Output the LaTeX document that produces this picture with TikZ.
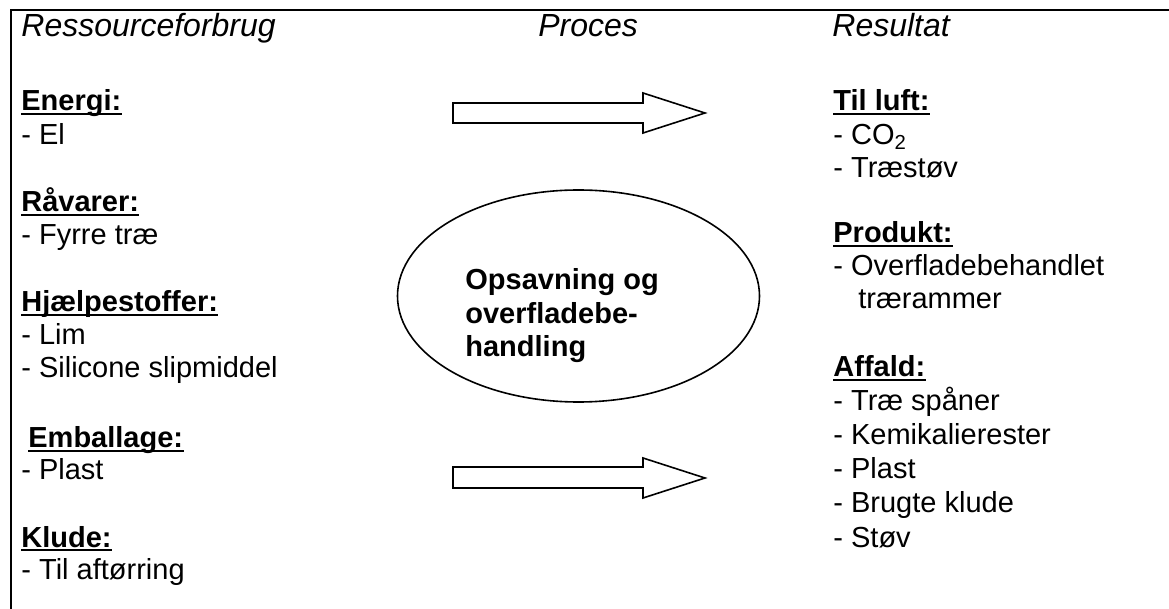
\documentclass[tikz,border=0pt]{standalone}
\usepackage{fontspec}
\setmainfont{Liberation Sans}
\usetikzlibrary{shapes.geometric}
\newcommand\hdrule[1]{\draw[uline] ([yshift=-1.6pt]#1.base west) -- ([yshift=-1.6pt]#1.base east);}
\begin{document}
\begin{tikzpicture}[x=0.5pt,y=-0.5pt,
  txt/.style={anchor=base west, inner sep=0pt, font=\fontsize{14.5}{17}\selectfont},
  ttl/.style={anchor=base west, inner sep=0pt, font=\fontsize{16}{19}\selectfont\itshape},
  hd/.style={anchor=base west, inner sep=0pt, font=\fontsize{14.5}{17}\selectfont\bfseries},
  uline/.style={line width=1pt},
  frame/.style={line width=1pt},
  outline/.style={draw, line width=0.8pt}]
\useasboundingbox (0,0) rectangle (1169,609);
% frame
\draw[frame] (10,10) -- (1169,10);
\draw[frame] (11,10) -- (11,609);
% titles
\node[ttl] (t1) at (21,37) {Ressourceforbrug};
\node[ttl] (t2) at (538,37) {Proces};
\node[ttl] (t3) at (832,37) {Resultat};
% left column
\node[hd] (energi) at (21,111) {Energi:};
\node[txt] (el) at (21,145) {- El};
\node[hd] (ravarer) at (21,212) {Råvarer:};
\node[txt] (fyrre) at (21,245) {- Fyrre træ};
\node[hd] (hjaelp) at (21,312) {Hjælpestoffer:};
\node[txt] (lim) at (21,345) {- Lim};
\node[txt] (silicone) at (21,378) {- Silicone slipmiddel};
\node[hd] (emb) at (28,448) {Emballage:};
\node[txt] (plastL) at (21,480) {- Plast};
\node[hd] (klude) at (21,547) {Klude:};
\node[txt] (aftor) at (21,580) {- Til aftørring};
% right column
\node[hd] (luft) at (833,111) {Til luft:};
\node[txt] (co2) at (833,145) {- CO\textsubscript{2}};
\node[txt] (traestov) at (833,178) {- Træstøv};
\node[hd] (produkt) at (833,243) {Produkt:};
\node[txt] (overfl) at (833,276) {- Overfladebehandlet};
\node[txt] (traeram) at (858,309) {trærammer};
\node[hd] (affald) at (833,377) {Affald:};
\node[txt] (spaner) at (833,411) {- Træ spåner};
\node[txt] (kemi) at (833,445) {- Kemikalierester};
\node[txt] (plastR) at (833,479) {- Plast};
\node[txt] (klude2) at (833,513) {- Brugte klude};
\node[txt] (stov) at (833,547) {- Støv};
% underlines
\hdrule{energi}
\hdrule{ravarer}
\hdrule{hjaelp}
\hdrule{emb}
\hdrule{klude}
\hdrule{luft}
\hdrule{produkt}
\hdrule{affald}
% process ellipse
\node[outline, ellipse, inner sep=0pt, minimum width=181pt, minimum height=106pt] (proc) at (578.5,296) {};
\node[hd] (p1) at (465,290) {Opsavning og};
\node[hd] (p2) at (465,323.5) {overfladebe-};
\node[hd] (p3) at (465,357) {handling};
% block arrows
\draw[outline, line join=miter] (453,103) -- (643,103) -- (643,93) -- (705,113) -- (643,133) -- (643,123) -- (453,123) -- cycle;
\draw[outline, line join=miter] (453,467) -- (643,467) -- (643,458) -- (705,478) -- (643,498) -- (643,488) -- (453,488) -- cycle;
\end{tikzpicture}
\end{document}
